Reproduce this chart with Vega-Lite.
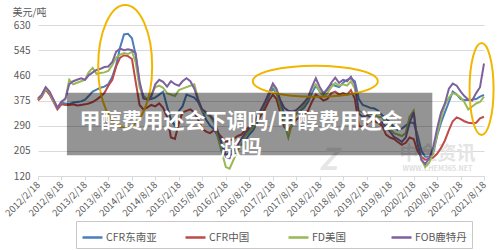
{
  "$schema": "https://vega.github.io/schema/vega-lite/v6.json",
  "width": 446,
  "height": 151,
  "autosize": {"type": "none"},
  "padding": {"left": 38, "top": 25, "right": 16, "bottom": 74},
  "background": "white",
  "config": {"font": "Noto Sans CJK SC", "view": {"stroke": null}, "legend": {"strokeColor": "#c8c8c8", "strokeWidth": 1, "padding": 5}},
  "datasets": {
    "prices": [
      {"d":"2012-02-18","CFR东南亚":378,"CFR中国":375,"FD美国":380,"FOB鹿特丹":382},
      {"d":"2012-03-18","CFR东南亚":392,"CFR中国":388,"FD美国":392,"FOB鹿特丹":395},
      {"d":"2012-04-18","CFR东南亚":418,"CFR中国":412,"FD美国":415,"FOB鹿特丹":420},
      {"d":"2012-05-18","CFR东南亚":400,"CFR中国":395,"FD美国":402,"FOB鹿特丹":405},
      {"d":"2012-06-18","CFR东南亚":375,"CFR中国":370,"FD美国":372,"FOB鹿特丹":378},
      {"d":"2012-07-18","CFR东南亚":352,"CFR中国":345,"FD美国":350,"FOB鹿特丹":350},
      {"d":"2012-08-18","CFR东南亚":368,"CFR中国":362,"FD美国":372,"FOB鹿特丹":370},
      {"d":"2012-09-18","CFR东南亚":365,"CFR中国":360,"FD美国":378,"FOB鹿特丹":382},
      {"d":"2012-10-18","CFR东南亚":362,"CFR中国":360,"FD美国":445,"FOB鹿特丹":430},
      {"d":"2012-11-18","CFR东南亚":368,"CFR中国":362,"FD美国":430,"FOB鹿特丹":440},
      {"d":"2012-12-18","CFR东南亚":370,"CFR中国":358,"FD美国":435,"FOB鹿特丹":445},
      {"d":"2013-01-18","CFR东南亚":372,"CFR中国":360,"FD美国":440,"FOB鹿特丹":450},
      {"d":"2013-02-18","CFR东南亚":378,"CFR中国":362,"FD美国":445,"FOB鹿特丹":445},
      {"d":"2013-03-18","CFR东南亚":390,"CFR中国":365,"FD美国":470,"FOB鹿特丹":460},
      {"d":"2013-04-18","CFR东南亚":405,"CFR中国":370,"FD美国":485,"FOB鹿特丹":470},
      {"d":"2013-05-18","CFR东南亚":412,"CFR中国":378,"FD美国":465,"FOB鹿特丹":478},
      {"d":"2013-06-18","CFR东南亚":418,"CFR中国":388,"FD美国":468,"FOB鹿特丹":482},
      {"d":"2013-07-18","CFR东南亚":422,"CFR中国":400,"FD美国":470,"FOB鹿特丹":488},
      {"d":"2013-08-18","CFR东南亚":430,"CFR中国":425,"FD美国":475,"FOB鹿特丹":490},
      {"d":"2013-09-18","CFR东南亚":455,"CFR中国":445,"FD美国":495,"FOB鹿特丹":505},
      {"d":"2013-10-18","CFR东南亚":495,"CFR中国":490,"FD美国":520,"FOB鹿特丹":540},
      {"d":"2013-11-18","CFR东南亚":555,"CFR中国":520,"FD美国":530,"FOB鹿特丹":550},
      {"d":"2013-12-18","CFR东南亚":598,"CFR中国":528,"FD美国":535,"FOB鹿特丹":545},
      {"d":"2014-01-18","CFR东南亚":600,"CFR中国":525,"FD美国":532,"FOB鹿特丹":548},
      {"d":"2014-02-18","CFR东南亚":585,"CFR中国":515,"FD美国":540,"FOB鹿特丹":545},
      {"d":"2014-03-18","CFR东南亚":530,"CFR中国":440,"FD美国":505,"FOB鹿特丹":535},
      {"d":"2014-04-18","CFR东南亚":430,"CFR中国":360,"FD美国":420,"FOB鹿特丹":440},
      {"d":"2014-05-18","CFR东南亚":390,"CFR中国":345,"FD美国":385,"FOB鹿特丹":382},
      {"d":"2014-06-18","CFR东南亚":378,"CFR中国":352,"FD美国":380,"FOB鹿特丹":378},
      {"d":"2014-07-18","CFR东南亚":380,"CFR中国":360,"FD美国":395,"FOB鹿特丹":388},
      {"d":"2014-08-18","CFR东南亚":385,"CFR中国":355,"FD美国":420,"FOB鹿特丹":430},
      {"d":"2014-09-18","CFR东南亚":395,"CFR中国":365,"FD美国":425,"FOB鹿特丹":445},
      {"d":"2014-10-18","CFR东南亚":405,"CFR中国":350,"FD美国":418,"FOB鹿特丹":438},
      {"d":"2014-11-18","CFR东南亚":355,"CFR中国":320,"FD美国":400,"FOB鹿特丹":422},
      {"d":"2014-12-18","CFR东南亚":310,"CFR中国":250,"FD美国":395,"FOB鹿特丹":440},
      {"d":"2015-01-18","CFR东南亚":290,"CFR中国":245,"FD美国":390,"FOB鹿特丹":430},
      {"d":"2015-02-18","CFR东南亚":340,"CFR中国":300,"FD美国":410,"FOB鹿特丹":425},
      {"d":"2015-03-18","CFR东南亚":355,"CFR中国":335,"FD美国":415,"FOB鹿特丹":440},
      {"d":"2015-04-18","CFR东南亚":395,"CFR中国":340,"FD美国":420,"FOB鹿特丹":450},
      {"d":"2015-05-18","CFR东南亚":390,"CFR中国":345,"FD美国":425,"FOB鹿特丹":440},
      {"d":"2015-06-18","CFR东南亚":385,"CFR中国":335,"FD美国":430,"FOB鹿特丹":415},
      {"d":"2015-07-18","CFR东南亚":370,"CFR中国":310,"FD美国":380,"FOB鹿特丹":375},
      {"d":"2015-08-18","CFR东南亚":340,"CFR中国":280,"FD美国":340,"FOB鹿特丹":345},
      {"d":"2015-09-18","CFR东南亚":310,"CFR中国":270,"FD美国":330,"FOB鹿特丹":335},
      {"d":"2015-10-18","CFR东南亚":290,"CFR中国":265,"FD美国":320,"FOB鹿特丹":325},
      {"d":"2015-11-18","CFR东南亚":278,"CFR中国":275,"FD美国":300,"FOB鹿特丹":310},
      {"d":"2015-12-18","CFR东南亚":255,"CFR中国":265,"FD美国":250,"FOB鹿特丹":270},
      {"d":"2016-01-18","CFR东南亚":225,"CFR中国":250,"FD美国":200,"FOB鹿特丹":230},
      {"d":"2016-02-18","CFR东南亚":190,"CFR中国":235,"FD美国":150,"FOB鹿特丹":185},
      {"d":"2016-03-18","CFR东南亚":200,"CFR中国":240,"FD美国":145,"FOB鹿特丹":180},
      {"d":"2016-04-18","CFR东南亚":210,"CFR中国":245,"FD美国":175,"FOB鹿特丹":205},
      {"d":"2016-05-18","CFR东南亚":220,"CFR中国":255,"FD美国":205,"FOB鹿特丹":225},
      {"d":"2016-06-18","CFR东南亚":225,"CFR中国":260,"FD美国":230,"FOB鹿特丹":245},
      {"d":"2016-07-18","CFR东南亚":240,"CFR中国":275,"FD美国":255,"FOB鹿特丹":265},
      {"d":"2016-08-18","CFR东南亚":260,"CFR中国":285,"FD美国":270,"FOB鹿特丹":280},
      {"d":"2016-09-18","CFR东南亚":275,"CFR中国":295,"FD美国":285,"FOB鹿特丹":295},
      {"d":"2016-10-18","CFR东南亚":300,"CFR中国":305,"FD美国":310,"FOB鹿特丹":320},
      {"d":"2016-11-18","CFR东南亚":330,"CFR中国":325,"FD美国":340,"FOB鹿特丹":345},
      {"d":"2016-12-18","CFR东南亚":360,"CFR中国":345,"FD美国":365,"FOB鹿特丹":370},
      {"d":"2017-01-18","CFR东南亚":390,"CFR中国":375,"FD美国":400,"FOB鹿特丹":400},
      {"d":"2017-02-18","CFR东南亚":415,"CFR中国":395,"FD美国":430,"FOB鹿特丹":432},
      {"d":"2017-03-18","CFR东南亚":400,"CFR中国":380,"FD美国":405,"FOB鹿特丹":415},
      {"d":"2017-04-18","CFR东南亚":365,"CFR中国":330,"FD美国":350,"FOB鹿特丹":375},
      {"d":"2017-05-18","CFR东南亚":330,"CFR中国":285,"FD美国":300,"FOB鹿特丹":350},
      {"d":"2017-06-18","CFR东南亚":300,"CFR中国":275,"FD美国":250,"FOB鹿特丹":340},
      {"d":"2017-07-18","CFR东南亚":315,"CFR中国":290,"FD美国":300,"FOB鹿特丹":338},
      {"d":"2017-08-18","CFR东南亚":330,"CFR中国":310,"FD美国":330,"FOB鹿特丹":342},
      {"d":"2017-09-18","CFR东南亚":340,"CFR中国":320,"FD美国":345,"FOB鹿特丹":355},
      {"d":"2017-10-18","CFR东南亚":350,"CFR中国":330,"FD美国":360,"FOB鹿特丹":368},
      {"d":"2017-11-18","CFR东南亚":370,"CFR中国":340,"FD美国":380,"FOB鹿特丹":385},
      {"d":"2017-12-18","CFR东南亚":400,"CFR中国":370,"FD美国":415,"FOB鹿特丹":420},
      {"d":"2018-01-18","CFR东南亚":425,"CFR中国":395,"FD美国":430,"FOB鹿特丹":450},
      {"d":"2018-02-18","CFR东南亚":405,"CFR中国":385,"FD美国":405,"FOB鹿特丹":420},
      {"d":"2018-03-18","CFR东南亚":395,"CFR中国":375,"FD美国":390,"FOB鹿特丹":400},
      {"d":"2018-04-18","CFR东南亚":415,"CFR中国":380,"FD美国":400,"FOB鹿特丹":412},
      {"d":"2018-05-18","CFR东南亚":430,"CFR中国":400,"FD美国":420,"FOB鹿特丹":435},
      {"d":"2018-06-18","CFR东南亚":425,"CFR中国":405,"FD美国":435,"FOB鹿特丹":452},
      {"d":"2018-07-18","CFR东南亚":420,"CFR中国":395,"FD美国":425,"FOB鹿特丹":435},
      {"d":"2018-08-18","CFR东南亚":435,"CFR中国":400,"FD美国":430,"FOB鹿特丹":445},
      {"d":"2018-09-18","CFR东南亚":445,"CFR中国":395,"FD美国":425,"FOB鹿特丹":440},
      {"d":"2018-10-18","CFR东南亚":450,"CFR中国":410,"FD美国":440,"FOB鹿特丹":455},
      {"d":"2018-11-18","CFR东南亚":440,"CFR中国":380,"FD美国":415,"FOB鹿特丹":430},
      {"d":"2018-12-18","CFR东南亚":380,"CFR中国":290,"FD美国":340,"FOB鹿特丹":330},
      {"d":"2019-01-18","CFR东南亚":360,"CFR中国":285,"FD美国":335,"FOB鹿特丹":320},
      {"d":"2019-02-18","CFR东南亚":355,"CFR中国":295,"FD美国":330,"FOB鹿特丹":325},
      {"d":"2019-03-18","CFR东南亚":350,"CFR中国":305,"FD美国":330,"FOB鹿特丹":320},
      {"d":"2019-04-18","CFR东南亚":348,"CFR中国":305,"FD美国":325,"FOB鹿特丹":312},
      {"d":"2019-05-18","CFR东南亚":340,"CFR中国":300,"FD美国":320,"FOB鹿特丹":305},
      {"d":"2019-06-18","CFR东南亚":325,"CFR中国":290,"FD美国":318,"FOB鹿特丹":300},
      {"d":"2019-07-18","CFR东南亚":315,"CFR中国":260,"FD美国":300,"FOB鹿特丹":285},
      {"d":"2019-08-18","CFR东南亚":300,"CFR中国":250,"FD美国":280,"FOB鹿特丹":270},
      {"d":"2019-09-18","CFR东南亚":285,"CFR中国":245,"FD美国":265,"FOB鹿特丹":252},
      {"d":"2019-10-18","CFR东南亚":275,"CFR中国":235,"FD美国":260,"FOB鹿特丹":245},
      {"d":"2019-11-18","CFR东南亚":280,"CFR中国":225,"FD美国":255,"FOB鹿特丹":235},
      {"d":"2019-12-18","CFR东南亚":290,"CFR中国":232,"FD美国":265,"FOB鹿特丹":250},
      {"d":"2020-01-18","CFR东南亚":300,"CFR中国":250,"FD美国":320,"FOB鹿特丹":300},
      {"d":"2020-02-18","CFR东南亚":300,"CFR中国":245,"FD美国":340,"FOB鹿特丹":335},
      {"d":"2020-03-18","CFR东南亚":260,"CFR中国":205,"FD美国":240,"FOB鹿特丹":230},
      {"d":"2020-04-18","CFR东南亚":205,"CFR中国":185,"FD美国":175,"FOB鹿特丹":175},
      {"d":"2020-05-18","CFR东南亚":185,"CFR中国":175,"FD美国":150,"FOB鹿特丹":160},
      {"d":"2020-06-18","CFR东南亚":185,"CFR中国":178,"FD美国":165,"FOB鹿特丹":180},
      {"d":"2020-07-18","CFR东南亚":195,"CFR中国":182,"FD美国":200,"FOB鹿特丹":215},
      {"d":"2020-08-18","CFR东南亚":255,"CFR中国":195,"FD美国":260,"FOB鹿特丹":280},
      {"d":"2020-09-18","CFR东南亚":300,"CFR中国":215,"FD美国":315,"FOB鹿特丹":335},
      {"d":"2020-10-18","CFR东南亚":335,"CFR中国":240,"FD美国":360,"FOB鹿特丹":365},
      {"d":"2020-11-18","CFR东南亚":370,"CFR中国":275,"FD美国":385,"FOB鹿特丹":415},
      {"d":"2020-12-18","CFR东南亚":405,"CFR中国":305,"FD美国":400,"FOB鹿特丹":432},
      {"d":"2021-01-18","CFR东南亚":395,"CFR中国":318,"FD美国":395,"FOB鹿特丹":425},
      {"d":"2021-02-18","CFR东南亚":380,"CFR中国":312,"FD美国":385,"FOB鹿特丹":405},
      {"d":"2021-03-18","CFR东南亚":377,"CFR中国":305,"FD美国":370,"FOB鹿特丹":390},
      {"d":"2021-04-18","CFR东南亚":377,"CFR中国":300,"FD美国":345,"FOB鹿特丹":378},
      {"d":"2021-05-18","CFR东南亚":378,"CFR中国":298,"FD美国":355,"FOB鹿特丹":375},
      {"d":"2021-06-18","CFR东南亚":380,"CFR中国":300,"FD美国":365,"FOB鹿特丹":400},
      {"d":"2021-07-18","CFR东南亚":388,"CFR中国":315,"FD美国":370,"FOB鹿特丹":420},
      {"d":"2021-08-18","CFR东南亚":394,"CFR中国":320,"FD美国":388,"FOB鹿特丹":500}
    ],
    "ellipses": [
      {"id":"e1","d":"2013-12-27","v":490},
      {"id":"e2","d":"2018-01-14","v":440},
      {"id":"e3","d":"2021-07-30","v":414}
    ],
    "banner": [
      {"d":"2012-09-30","d2":"2020-07-12","v":401,"v2":190}
    ],
    "bannerText": [
      {"d":"2016-06-15","v":301,"t":"甲醇费用还会下调吗/甲醇费用还会\n涨吗"}
    ],
    "watermark": [
      {"k":"a","d":"2020-08-21","v":193,"t":"中金资讯"},
      {"k":"b","d":"2020-08-21","v":143,"t":"WWW.CHEM365.NET"},
      {"k":"c","d":"2018-04-24","v":172,"t":"Z"}
    ]
  },
  "encoding": {
    "x": {
      "field": "d", "type": "temporal",
      "scale": {"type": "utc", "domain": [{"year": 2012, "month": 2, "date": 18, "utc": true}, {"year": 2021, "month": 8, "date": 18, "utc": true}]},
      "axis": {
        "values": [
          {"year": 2012, "month": 2, "date": 18, "utc": true}, {"year": 2012, "month": 8, "date": 18, "utc": true},
          {"year": 2013, "month": 2, "date": 18, "utc": true}, {"year": 2013, "month": 8, "date": 18, "utc": true},
          {"year": 2014, "month": 2, "date": 18, "utc": true}, {"year": 2014, "month": 8, "date": 18, "utc": true},
          {"year": 2015, "month": 2, "date": 18, "utc": true}, {"year": 2015, "month": 8, "date": 18, "utc": true},
          {"year": 2016, "month": 2, "date": 18, "utc": true}, {"year": 2016, "month": 8, "date": 18, "utc": true},
          {"year": 2017, "month": 2, "date": 18, "utc": true}, {"year": 2017, "month": 8, "date": 18, "utc": true},
          {"year": 2018, "month": 2, "date": 18, "utc": true}, {"year": 2018, "month": 8, "date": 18, "utc": true},
          {"year": 2019, "month": 2, "date": 18, "utc": true}, {"year": 2019, "month": 8, "date": 18, "utc": true},
          {"year": 2020, "month": 2, "date": 18, "utc": true}, {"year": 2020, "month": 8, "date": 18, "utc": true},
          {"year": 2021, "month": 2, "date": 18, "utc": true}, {"year": 2021, "month": 8, "date": 18, "utc": true}
        ],
        "format": "%Y/%-m/%-d",
        "labelAngle": -45, "labelAlign": "right", "labelBaseline": "middle",
        "labelOverlap": false, "labelFlush": false, "labelBound": false,
        "labelFontSize": 9.5, "labelColor": "#595959", "labelPadding": 3,
        "title": null, "grid": false,
        "domainColor": "#d9d9d9", "tickColor": "#d9d9d9", "tickSize": 4
      }
    },
    "y": {
      "field": "v", "type": "quantitative",
      "scale": {"domain": [120, 630], "nice": false, "zero": false},
      "axis": {
        "values": [120, 205, 290, 375, 460, 545, 630],
        "labelOverlap": false,
        "title": "美元/吨", "titleAngle": 0, "titleAlign": "left", "titleBaseline": "middle",
        "titleX": -26, "titleY": -13, "titleFontSize": 10, "titleFontWeight": "normal", "titleColor": "#595959",
        "domain": false, "ticks": false, "labelPadding": 8, "labelFontSize": 10, "labelColor": "#595959",
        "gridColor": "#d9d9d9", "gridWidth": 1
      }
    }
  },
  "layer": [
    {
      "data": {"name": "watermark"},
      "transform": [{"filter": "datum.k == 'a'"}],
      "mark": {"type": "text", "fontWeight": "bold", "fontSize": 19, "color": "#e4e4e4", "align": "center", "baseline": "middle"},
      "encoding": {"text": {"field": "t"}}
    },
    {
      "data": {"name": "watermark"},
      "transform": [{"filter": "datum.k == 'b'"}],
      "mark": {"type": "text", "fontWeight": "bold", "fontSize": 7, "color": "#e0e0e0", "align": "center", "baseline": "middle"},
      "encoding": {"text": {"field": "t"}}
    },
    {
      "data": {"name": "watermark"},
      "transform": [{"filter": "datum.k == 'c'"}],
      "mark": {"type": "text", "fontWeight": "bold", "fontStyle": "italic", "fontSize": 30, "color": "#e6e6e6", "align": "center", "baseline": "middle"},
      "encoding": {"text": {"field": "t"}}
    },
    {
      "data": {"name": "prices"},
      "transform": [{"fold": ["CFR东南亚", "CFR中国", "FD美国", "FOB鹿特丹"], "as": ["s", "v"]}],
      "mark": {"type": "line", "strokeWidth": 2},
      "encoding": {
        "color": {
          "field": "s", "type": "nominal",
          "scale": {"domain": ["CFR东南亚", "CFR中国", "FD美国", "FOB鹿特丹"], "range": ["#4a7ebb", "#be4b48", "#98b954", "#7d60a0"]},
          "legend": {
            "orient": "none", "legendX": 38, "legendY": 196, "direction": "horizontal", "columns": 4,
            "gridAlign": "all", "columnPadding": 22, "title": null,
            "symbolType": "stroke", "symbolSize": 400, "symbolStrokeWidth": 2.5,
            "labelFontSize": 10.5, "labelColor": "#595959", "labelOffset": 2, "labelLimit": 0,
            "strokeColor": "#c8c8c8", "fillColor": "#ffffff", "padding": 5
          }
        }
      }
    },
    {
      "data": {"name": "ellipses"},
      "transform": [{"filter": "datum.id == 'e1'"}],
      "mark": {"type": "point", "filled": false, "stroke": "#f2b600", "strokeWidth": 2, "opacity": 1, "size": 15129, "shape": "M-0.439,0A0.439,1,0,1,0,0.439,0A0.439,1,0,1,0,-0.439,0Z"}
    },
    {
      "data": {"name": "ellipses"},
      "transform": [{"filter": "datum.id == 'e2'"}],
      "mark": {"type": "point", "filled": false, "stroke": "#f2b600", "strokeWidth": 2, "opacity": 1, "size": 15625, "shape": "M-1,0A1,0.248,0,1,0,1,0A1,0.248,0,1,0,-1,0Z"}
    },
    {
      "data": {"name": "ellipses"},
      "transform": [{"filter": "datum.id == 'e3'"}],
      "mark": {"type": "point", "filled": false, "stroke": "#f2b600", "strokeWidth": 2, "opacity": 1, "size": 8464, "shape": "M-0.261,0A0.261,1,0,1,0,0.261,0A0.261,1,0,1,0,-0.261,0Z"}
    },
    {
      "data": {"name": "banner"},
      "mark": {"type": "rect", "color": "#000000", "opacity": 0.42},
      "encoding": {
        "x2": {"field": "d2"},
        "y2": {"field": "v2"}
      }
    },
    {
      "data": {"name": "bannerText"},
      "mark": {"type": "text", "fontSize": 21, "fontWeight": "bold", "color": "#ffffff", "lineBreak": "\n", "lineHeight": 27, "align": "center", "baseline": "middle"},
      "encoding": {"text": {"field": "t"}}
    }
  ]
}
